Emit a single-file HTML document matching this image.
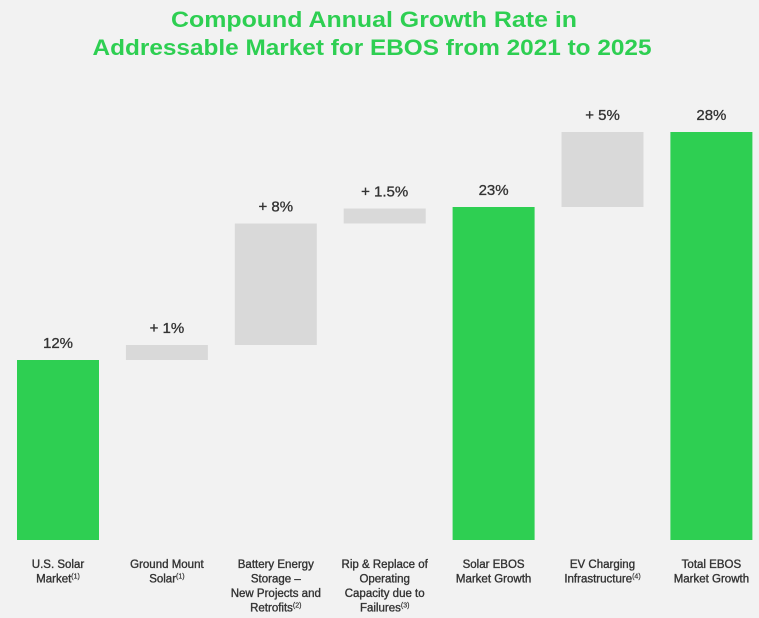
<!DOCTYPE html>
<html><head><meta charset="utf-8"><style>
html,body{margin:0;padding:0;background:#f2f2f2;}
svg{display:block;font-family:"Liberation Sans",sans-serif;}
</style></head><body>
<svg id="chart" width="759" height="618" viewBox="0 0 759 618">
<rect width="759" height="618" fill="#f2f2f2"/>
<text x="374" y="27" text-anchor="middle" font-size="22" font-weight="bold" fill="#2ecf52" textLength="406" lengthAdjust="spacingAndGlyphs">Compound Annual Growth Rate in</text>
<text x="372" y="55" text-anchor="middle" font-size="22" font-weight="bold" fill="#2ecf52" textLength="559" lengthAdjust="spacingAndGlyphs">Addressable Market for EBOS from 2021 to 2025</text>
<g id="bars"></g>
</svg>
<script>
const categories=[["U.S. Solar","Market|(1)"],["Ground Mount","Solar|(1)"],["Battery Energy","Storage –","New Projects and","Retrofits|(2)"],["Rip & Replace of","Operating","Capacity due to","Failures|(3)"],["Solar EBOS","Market Growth"],["EV Charging","Infrastructure|(4)"],["Total EBOS","Market Growth"]];
const valueLabels=["12%","+ 1%","+ 8%","+ 1.5%","23%","+ 5%","28%"];
const values=[12,1,8.1,1,22.2,5,27.2];
const isTotal=[true,false,false,false,true,false,true];
const baseY=540, pxPer=15, x0=17, step=108.9, bw=82;
function yScale(v){return baseY-v*pxPer;}
function xScale(i){return x0+i*step;}
const g=document.getElementById('bars');
const NS="http://www.w3.org/2000/svg";
let cum=0;
values.forEach((v,i)=>{
  let lo,hi;
  if(isTotal[i]){lo=0;hi=v;cum=v;}else{lo=cum;hi=cum+v;cum=hi;}
  const r=document.createElementNS(NS,'rect');
  
  
  r.setAttribute('x',xScale(i));r.setAttribute('width',bw);
  r.setAttribute('y',yScale(hi));r.setAttribute('height',yScale(lo)-yScale(hi));
  r.setAttribute('fill',isTotal[i]?'#2ecf52':'#d9d9d9');
  g.appendChild(r);
  const t=document.createElementNS(NS,'text');
  
  
  t.setAttribute('x',xScale(i)+bw/2);t.setAttribute('y',yScale(hi)-12);
  t.setAttribute('text-anchor','middle');t.setAttribute('font-size','15');t.setAttribute('fill','#333');
  t.setAttribute('stroke','#333');t.setAttribute('stroke-width','0.3');
  t.textContent=valueLabels[i];
  g.appendChild(t);
  categories[i].forEach((line,j)=>{
    const c=document.createElementNS(NS,'text');
    
    
    c.setAttribute('x',xScale(i)+bw/2);c.setAttribute('y',568+j*14.5);
    c.setAttribute('text-anchor','middle');c.setAttribute('font-size','11.5');c.setAttribute('fill','#333');
    c.setAttribute('stroke','#333');c.setAttribute('stroke-width','0.35');
    const parts=line.split('|');
    c.appendChild(document.createTextNode(parts[0]));
    if(parts[1]){const s=document.createElementNS(NS,'tspan');s.setAttribute('font-size','7');s.setAttribute('dy','-4');s.setAttribute('stroke-width','0.2');s.textContent=parts[1];c.appendChild(s);}
    g.appendChild(c);
  });
});
</script>
</body></html>
